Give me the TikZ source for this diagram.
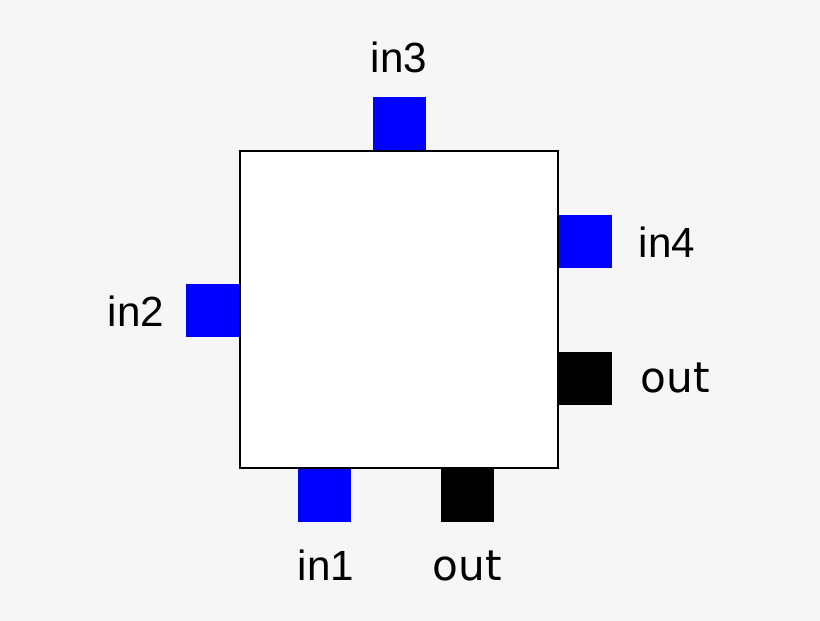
\documentclass[tikz,border=0pt]{standalone}
\usepackage{fontspec}
\setmainfont{Liberation Sans}
\newfontfamily\outfont{DejaVu Sans}
\usetikzlibrary{positioning}
\definecolor{bgcol}{HTML}{F6F6F6}
\tikzset{
  block/.style={draw, fill=white, line width=0.6pt, minimum width=3.18cm, minimum height=3.17cm, inner sep=0pt},
  inport/.style={fill=blue, minimum size=0.53cm, inner sep=0pt},
  outport/.style={fill=black, minimum size=0.53cm, inner sep=0pt},
  portname/.style={anchor=base, font=\fontsize{12}{14}\selectfont, inner sep=0pt},
  outname/.style={portname, font=\outfont\fontsize{12}{14}\selectfont}
}
\begin{document}
\begin{tikzpicture}[x=0.01cm,y=-0.01cm]
  \fill[bgcol] (0,0) rectangle (820,621);
  \useasboundingbox (0,0) rectangle (820,621);
  \node[block] (B) at (399,309.5) {};
  \node[inport, anchor=south] (P3) at (399.5,151) {};
  \node[inport, anchor=west] (P4) at (558,241.5) {};
  \node[outport, anchor=west] (PO) at (558,378.5) {};
  \node[inport, anchor=east] (P2) at (240,310.5) {};
  \node[inport, anchor=north] (P1) at (324.5,468) {};
  \node[outport, anchor=north] (PB) at (467.5,468) {};
  \node[portname] (L3) at (399,72) {in3};
  \node[portname] (L4) at (667,258) {in4};
  \node[outname] (LO) at (675.5,393) {out};
  \node[portname] (L2) at (136,327) {in2};
  \node[portname] (L1) at (326,581) {in1};
  \node[outname] (LB) at (467.5,581) {out};
\end{tikzpicture}
\end{document}
